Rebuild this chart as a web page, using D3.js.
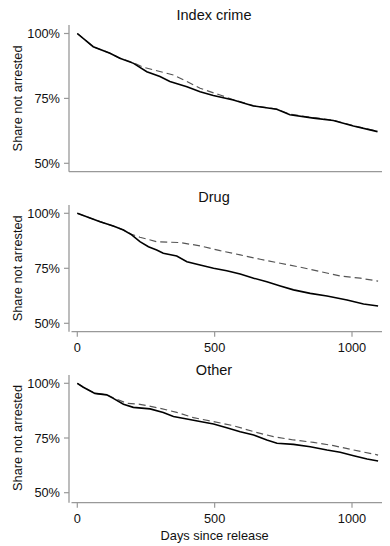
<!DOCTYPE html>
<html><head><meta charset="utf-8">
<script src="https://cdn.jsdelivr.net/npm/d3@7"></script>
<style>body{margin:0;background:#fff}svg{display:block;font-family:"Liberation Sans",Arial,sans-serif}</style>
</head><body>
<svg id="c" width="390" height="546"></svg>
<script>
const panelTitles = ["Index crime", "Drug", "Other"];
const yTicks = [0.5, 0.75, 1.0];
const xTicks = [0, 500, 1000];
const yLabel = "Share not arrested";
const xLabel = "Days since release";

// Index crime
const indexDays   = [0, 58, 119, 155, 205, 253, 301, 337, 399, 447, 495, 568, 641, 726, 774, 860, 932, 1005, 1093];
const indexSolid  = [1.0, .949, .924, .905, .885, .853, .834, .815, .795, .776, .761, .744, .721, .708, .687, .674, .665, .644, .622];
const indexDashD  = [0, 58, 119, 155, 205, 240, 277, 350, 399, 447, 520, 568, 641, 726, 774, 860, 932, 1005, 1093];
const indexDash   = [1.0, .949, .924, .905, .887, .870, .860, .840, .815, .789, .763, .745, .722, .709, .689, .676, .666, .645, .623];

// Drug
const drugDays    = [0, 83, 131, 168, 198, 228, 259, 289, 313, 362, 399, 447, 496, 544, 593, 642, 690, 739, 787, 848, 909, 982, 1042, 1095];
const drugSolid   = [1.0, .962, .942, .924, .902, .871, .848, .833, .818, .806, .780, .765, .750, .739, .724, .705, .689, .670, .652, .636, .624, .606, .588, .579];
const drugDashD   = [0, 83, 131, 168, 198, 228, 289, 374, 447, 520, 593, 666, 739, 812, 885, 957, 1030, 1095];
const drugDash    = [1.0, .962, .942, .924, .905, .891, .871, .867, .852, .830, .811, .791, .773, .755, .735, .715, .705, .692];

// Other
const otherDays   = [0, 22, 64, 107, 131, 168, 204, 265, 313, 350, 399, 447, 496, 544, 593, 642, 690, 727, 787, 848, 909, 957, 1006, 1055, 1095];
const otherSolid  = [1.0, .982, .954, .947, .931, .904, .890, .883, .867, .848, .837, .825, .814, .797, .779, .764, .741, .726, .721, .710, .695, .685, .669, .654, .645];
const otherDashD  = [0, 22, 64, 107, 131, 180, 228, 301, 362, 423, 496, 569, 642, 714, 787, 860, 933, 1006, 1095];
const otherDash   = [1.0, .982, .954, .948, .934, .909, .904, .886, .867, .843, .825, .806, .779, .756, .741, .730, .715, .695, .672];

const panels = [
  {title: panelTitles[0], solidX: indexDays, solid: indexSolid, dashX: indexDashD, dash: indexDash, top: 25, y100: 33.5, y50: 163.3, base: 171.7, titleY: 15, xAxis: false, xLab: false},
  {title: panelTitles[1], solidX: drugDays, solid: drugSolid, dashX: drugDashD, dash: drugDash, top: 205, y100: 213.3, y50: 323.3, base: 331.7, titleY: 196.5, xAxis: true, xLab: false},
  {title: panelTitles[2], solidX: otherDays, solid: otherSolid, dashX: otherDashD, dash: otherDash, top: 375, y100: 383.3, y50: 492.7, base: 502.7, titleY: 370, xAxis: true, xLab: true}
];

const svg = d3.select("#c");
const axisX0 = 69, axisX1 = 382;
const x = d3.scaleLinear().domain([0, 1000]).range([77.3, 352]);
const axisCol = "#999";
const fs = "12.8px";

panels.forEach(p => {
  const y = d3.scaleLinear().domain([0.5, 1.0]).range([p.y50, p.y100]);
  const g = svg.append("g");
  // title
  g.append("text").attr("x", 214).attr("y", p.titleY).attr("text-anchor", "middle")
    .attr("dominant-baseline", "central").style("font-size", "14.5px").attr("fill", "#111").text(p.title);
  // y axis line
  g.append("line").attr("x1", axisX0).attr("x2", axisX0).attr("y1", p.top).attr("y2", p.base)
    .attr("stroke", axisCol).attr("stroke-width", 1.3);
  // x axis line
  g.append("line").attr("x1", axisX0 + (p.xAxis ? 2.5 : 0)).attr("x2", axisX1).attr("y1", p.base).attr("y2", p.base)
    .attr("stroke", axisCol).attr("stroke-width", 1.3);
  // y ticks
  yTicks.forEach(t => {
    g.append("line").attr("x1", axisX0 - 5).attr("x2", axisX0).attr("y1", y(t)).attr("y2", y(t))
      .attr("stroke", axisCol).attr("stroke-width", 1.2);
    g.append("text").attr("x", axisX0 - 9).attr("y", y(t)).attr("text-anchor", "end")
      .attr("dominant-baseline", "central").style("font-size", fs).attr("fill", "#111")
      .text(d3.format(".0%")(t));
  });
  // y label
  g.append("text").attr("transform", `translate(17,${(p.y100 + p.y50) / 2}) rotate(-90)`)
    .attr("text-anchor", "middle").attr("dominant-baseline", "central")
    .style("font-size", fs).attr("fill", "#111").text(yLabel);
  if (p.xAxis) {
    xTicks.forEach(t => {
      g.append("line").attr("x1", x(t)).attr("x2", x(t)).attr("y1", p.base).attr("y2", p.base + 5)
        .attr("stroke", axisCol).attr("stroke-width", 1.2);
      g.append("text").attr("x", x(t)).attr("y", p.base + 15.5).attr("text-anchor", "middle")
        .attr("dominant-baseline", "central").style("font-size", fs).attr("fill", "#111").text(t);
    });
  }
  if (p.xLab) {
    g.append("text").attr("x", x(500)).attr("y", p.base + 32.5).attr("text-anchor", "middle")
      .attr("dominant-baseline", "central").style("font-size", fs).attr("fill", "#111").text(xLabel);
  }
  const line = d3.line().x(d => x(d[0])).y(d => y(d[1]));
  g.append("path").datum(d3.zip(p.dashX, p.dash)).attr("d", line).attr("fill", "none")
    .attr("stroke", "#555").attr("stroke-width", 1.2).attr("stroke-dasharray", "7,4");
  g.append("path").datum(d3.zip(p.solidX, p.solid)).attr("d", line).attr("fill", "none")
    .attr("stroke", "#000").attr("stroke-width", 1.6);
});
</script>
</body></html>
